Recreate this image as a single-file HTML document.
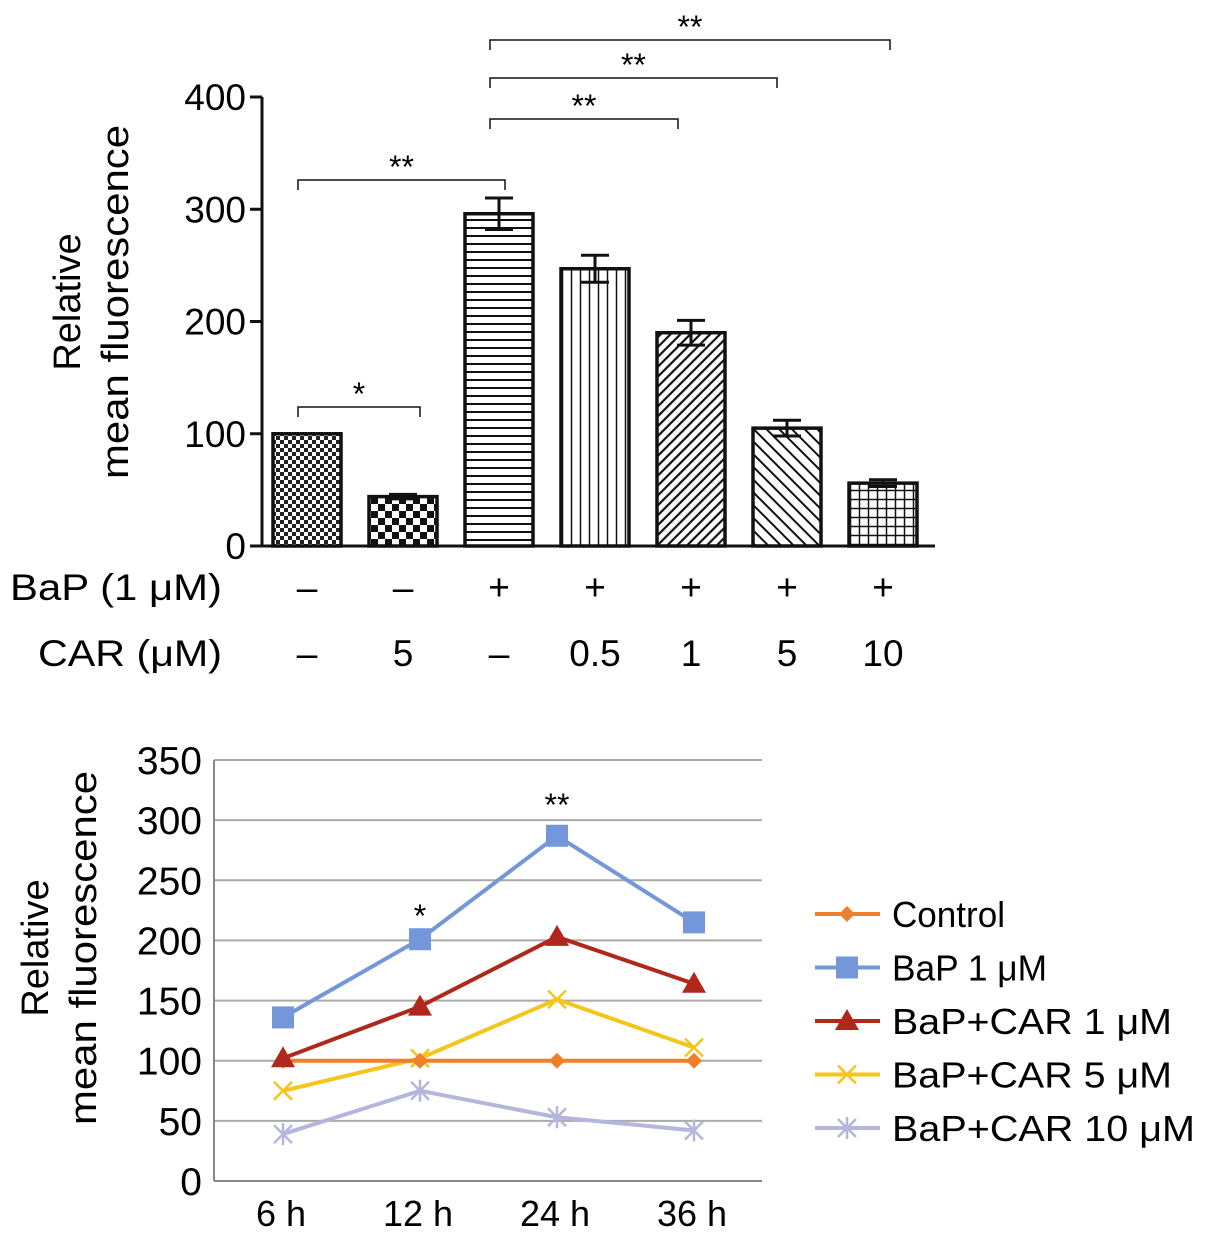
<!DOCTYPE html>
<html><head><meta charset="utf-8"><style>
body{margin:0;background:#fff;}
svg{display:block;font-family:"Liberation Sans",Arial,sans-serif;}
</style></head><body>
<svg id="s" width="1205" height="1239" viewBox="0 0 1205 1239">
<defs>
<pattern id="p0" width="8" height="8" patternUnits="userSpaceOnUse"><rect width="8" height="8" fill="#fff"/><rect width="4" height="4" fill="#222"/><rect x="4" y="4" width="4" height="4" fill="#222"/></pattern>
<pattern id="p1" width="14" height="14" patternUnits="userSpaceOnUse"><rect width="14" height="14" fill="#fff"/><rect width="7" height="7" fill="#111"/><rect x="7" y="7" width="7" height="7" fill="#111"/></pattern>
<pattern id="p2" width="8" height="8" patternUnits="userSpaceOnUse"><rect width="8" height="8" fill="#fff"/><line x1="0" y1="4" x2="8" y2="4" stroke="#111" stroke-width="2"/></pattern>
<pattern id="p3" width="9" height="9" patternUnits="userSpaceOnUse"><rect width="9" height="9" fill="#fff"/><line x1="4.5" y1="0" x2="4.5" y2="9" stroke="#111" stroke-width="1.5"/></pattern>
<pattern id="p4" width="7" height="7" patternUnits="userSpaceOnUse" patternTransform="rotate(45)"><rect width="7" height="7" fill="#fff"/><line x1="3.5" y1="0" x2="3.5" y2="7" stroke="#111" stroke-width="2.2"/></pattern>
<pattern id="p5" width="9" height="9" patternUnits="userSpaceOnUse" patternTransform="rotate(-45)"><rect width="9" height="9" fill="#fff"/><line x1="4.5" y1="0" x2="4.5" y2="9" stroke="#111" stroke-width="2"/></pattern>
<pattern id="p6" width="9" height="9" patternUnits="userSpaceOnUse"><rect width="9" height="9" fill="#fff"/><line x1="0" y1="4.5" x2="9" y2="4.5" stroke="#111" stroke-width="1.5"/><line x1="4.5" y1="0" x2="4.5" y2="9" stroke="#111" stroke-width="1.5"/></pattern>
</defs>
<g id="top"></g><g id="bot"></g>
</svg>
<script>
const NS="http://www.w3.org/2000/svg";
const barValues=[100,44,296,247,190,105,56];
const barErrors=[0,2,14,12,11,7,3];
const bapLabels=["–","–","+","+","+","+","+"];
const carLabels=["–","5","–","0.5","1","5","10"];
const topTicks=[0,100,200,300,400];
const timeCats=["6 h","12 h","24 h","36 h"];
const ctrl=[100,100,100,100];
const bap1=[136,201,287,215];
const car1=[102,145,203,164];
const car5=[75,102,151,111];
const car10=[39,75,53,42];
const botTicks=[0,50,100,150,200,250,300,350];

function mk(p,tag,at,txt){const e=document.createElementNS(NS,tag);for(const k in at)e.setAttribute(k,at[k]);if(txt!==undefined)e.textContent=txt;p.appendChild(e);return e;}
const T=document.getElementById('top'),B=document.getElementById('bot');
const yT=v=>546-v*(449/400);
const xT=i=>307+i*96;
let ax=mk(T,'path',{d:'M262,97V546H935',stroke:'#111','stroke-width':3,fill:'none'});

topTicks.forEach(v=>{
 let t=mk(T,'line',{x1:250,x2:262,y1:yT(v),y2:yT(v),stroke:'#111','stroke-width':3});
 
 let l=mk(T,'text',{x:246,y:yT(v)+13,'text-anchor':'end','font-size':37},v);
 
});
barValues.forEach((v,i)=>{
 let r=mk(T,'rect',{x:xT(i)-34,y:yT(v),width:68,height:yT(0)-yT(v),fill:'url(#p'+i+')',stroke:'#111','stroke-width':3.5});
 
 const e=barErrors[i];
 if(e>0){let g=mk(T,'path',{d:`M${xT(i)},${yT(v+e)}V${yT(v-e)}M${xT(i)-14},${yT(v+e)}H${xT(i)+14}M${xT(i)-14},${yT(v-e)}H${xT(i)+14}`,stroke:'#111','stroke-width':3,fill:'none'});
 }
 let a=mk(T,'text',{x:xT(i),y:600,'text-anchor':'middle','font-size':37},bapLabels[i]);
 
 let c=mk(T,'text',{x:xT(i),y:666,'text-anchor':'middle','font-size':37},carLabels[i]);
 
});
let r1=mk(T,'text',{x:10,y:600,'font-size':37,textLength:212,lengthAdjust:'spacingAndGlyphs'},'BaP (1 μM)');
let r2=mk(T,'text',{x:38,y:666,'font-size':37,textLength:184,lengthAdjust:'spacingAndGlyphs'},'CAR (μM)');
const brackets=[[298,420,407,'*'],[298,505,180,'**'],[490,678,119,'**'],[490,777,78,'**'],[490,890,40,'**']];
brackets.forEach(b=>{
 let p=mk(T,'path',{d:`M${b[0]},${b[2]+10}V${b[2]}H${b[1]}V${b[2]+10}`,stroke:'#111','stroke-width':1.5,fill:'none'});
 
 let s=mk(T,'text',{x:(b[0]+b[1])/2,y:b[2]-2,'text-anchor':'middle','font-size':32},b[3]);
 
});
let yt=mk(T,'text',{transform:'translate(80,302) rotate(-90)','text-anchor':'middle','font-size':38});

mk(yt,'tspan',{x:0,dy:0},'Relative');mk(yt,'tspan',{x:0,dy:48,textLength:354,lengthAdjust:'spacingAndGlyphs'},'mean fluorescence');

const yB=v=>1181-v*(421/350);
const xB=i=>283+i*137;
botTicks.forEach(v=>{
 let g=mk(B,'line',{x1:214,x2:762,y1:yB(v),y2:yB(v),stroke:v?'#aaa':'#888','stroke-width':2});
 
 let l=mk(B,'text',{x:202,y:yB(v)+14,'text-anchor':'end','font-size':39},v);
 
});
let ya=mk(B,'line',{x1:214,x2:214,y1:yB(350),y2:yB(0),stroke:'#888','stroke-width':2});

timeCats.forEach((c,i)=>{let t=mk(B,'text',{x:xB(i)-2,y:1226,'text-anchor':'middle','font-size':36},c);
 });
function marker(p,x,y,type,col){
 if(type=='sq')return mk(p,'rect',{x:x-11,y:y-11,width:22,height:22,fill:col});
 if(type=='tri')return mk(p,'polygon',{points:`${x},${y-12} ${x+12},${y+9} ${x-12},${y+9}`,fill:col});
 if(type=='dia')return mk(p,'polygon',{points:`${x},${y-8} ${x+8},${y} ${x},${y+8} ${x-8},${y}`,fill:col});
 if(type=='x')return mk(p,'path',{d:`M${x-9},${y-9}L${x+9},${y+9}M${x+9},${y-9}L${x-9},${y+9}`,stroke:col,'stroke-width':2.5});
 return mk(p,'path',{d:`M${x-9},${y-9}L${x+9},${y+9}M${x+9},${y-9}L${x-9},${y+9}M${x},${y-11}V${y+11}`,stroke:col,'stroke-width':2.5});
}
const series=[[ctrl,'#f07f2a','dia','Control','control'],[bap1,'#7397d9','sq','BaP 1 μM','bap-1'],[car1,'#b0281c','tri','BaP+CAR 1 μM','bap-car-1'],[car5,'#f4c51a','x','BaP+CAR 5 μM','bap-car-5'],[car10,'#b4b6de','ast','BaP+CAR 10 μM','bap-car-10']];
const legW=[113,155,280,280,303];
const order=[4,3,0,2,1];
order.forEach(k=>{const s=series[k];
 let l=mk(B,'polyline',{points:s[0].map((v,i)=>xB(i)+','+yB(v)).join(' '),fill:'none',stroke:s[1],'stroke-width':4});
 
 s[0].forEach((v,i)=>{let m=marker(B,xB(i),yB(v),s[2],s[1]);
 });
});
series.forEach((s,k)=>{const y=914+k*53.5;
 let g=mk(B,'g',{});
 mk(g,'line',{x1:815,x2:880,y1:y,y2:y,stroke:s[1],'stroke-width':4});
 marker(g,847,y,s[2],s[1]);
 mk(g,'text',{x:892,y:y+13,'font-size':36,textLength:legW[k],lengthAdjust:'spacingAndGlyphs'},s[3]);
});
let s1=mk(B,'text',{x:xB(1),y:927,'text-anchor':'middle','font-size':32},'*');
let s2=mk(B,'text',{x:xB(2),y:816,'text-anchor':'middle','font-size':32},'**');
let bt=mk(B,'text',{transform:'translate(48,948) rotate(-90)','text-anchor':'middle','font-size':38});

mk(bt,'tspan',{x:0,dy:0},'Relative');mk(bt,'tspan',{x:0,dy:48,textLength:354,lengthAdjust:'spacingAndGlyphs'},'mean fluorescence');
</script>
</body></html>
